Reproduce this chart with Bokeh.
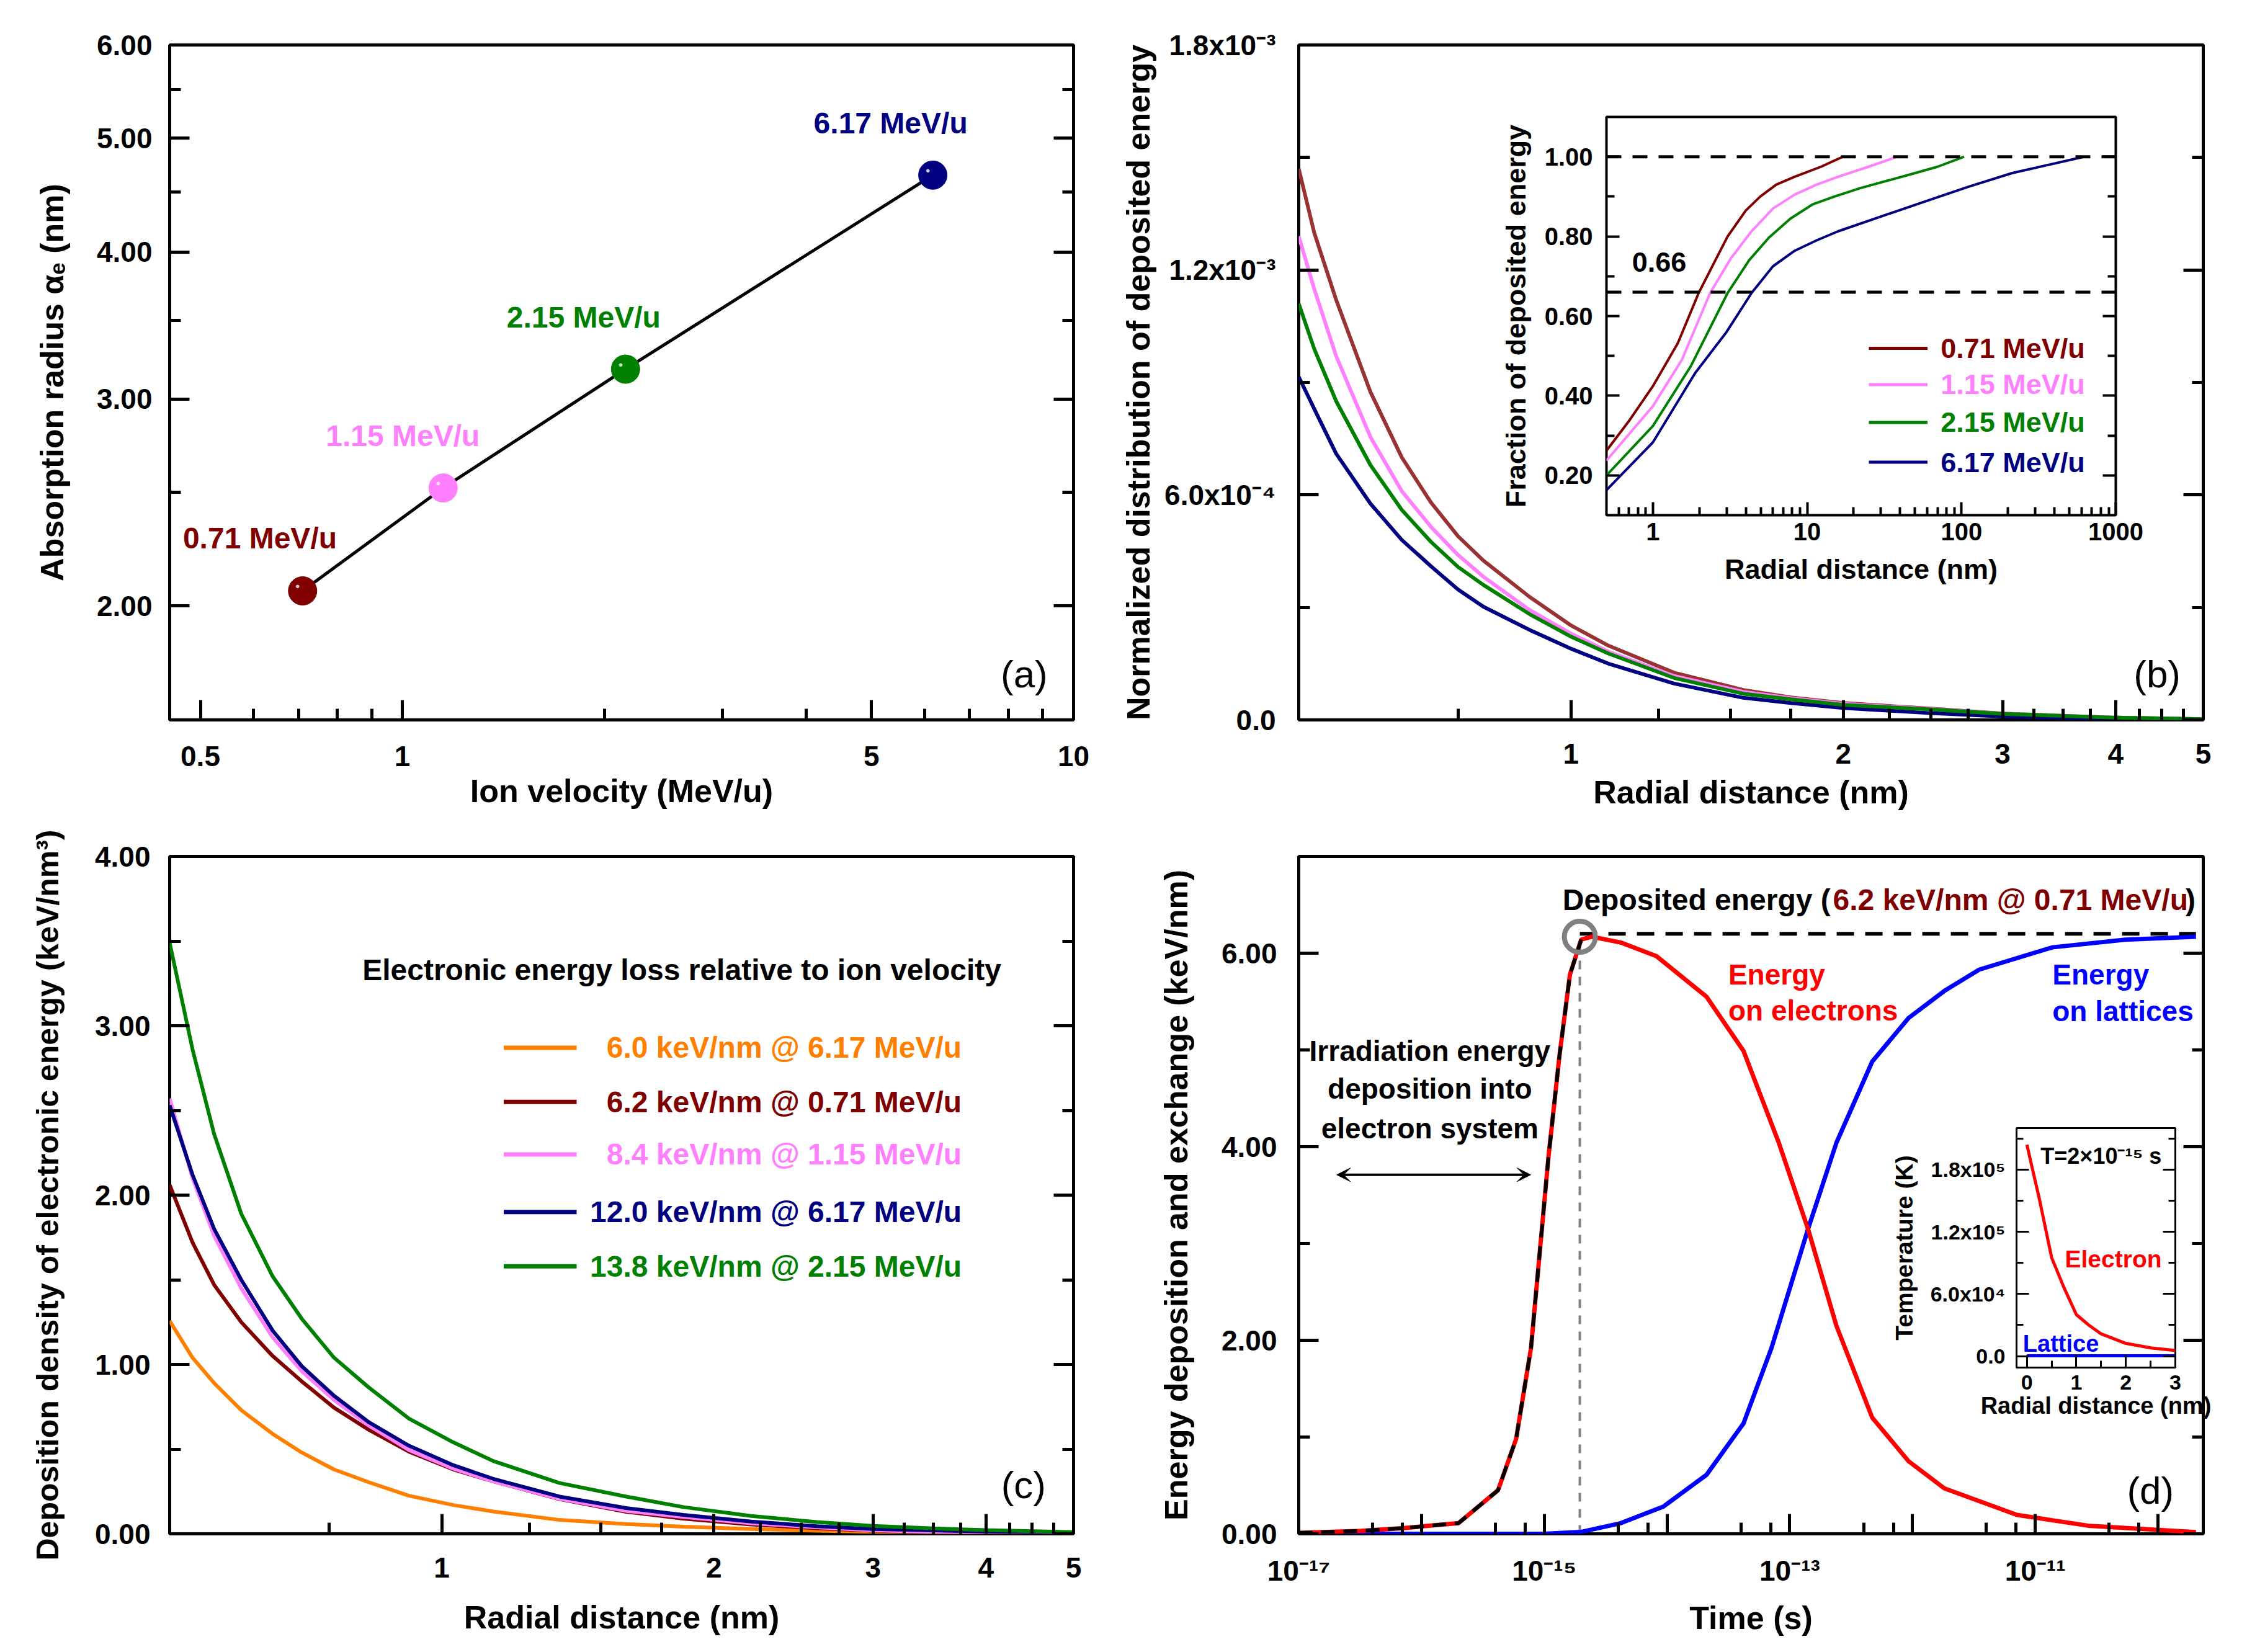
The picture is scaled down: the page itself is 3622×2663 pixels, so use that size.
from bokeh.plotting import figure
from bokeh.models import (FixedTicker, CustomJSTickFormatter, LinearAxis, LogAxis,
                          Range1d, GridBox, Arrow, VeeHead, Span)
from bokeh.core.properties import value
from bokeh.embed import file_html
from bokeh.resources import INLINE

FONT = "Liberation Sans"

# ---------------- colours ----------------
C_071 = "#800000"
C_071_B = "#993333"
C_115 = "#FF80FF"
C_215 = "#008000"
C_617 = "#000080"
C_ORANGE = "#FF8000"
C_RED = "#FF0000"
C_BLUE = "#0000FF"
C_GRAY = "#808080"

# ---------------- panel (a) data ----------------
ion_velocity = [0.71, 1.15, 2.15, 6.17]
absorption_radius = [2.06, 2.52, 3.18, 4.65]
velocity_labels = ["0.71 MeV/u", "1.15 MeV/u", "2.15 MeV/u", "6.17 MeV/u"]
velocity_colors = [C_071, C_115, C_215, C_617]
a_label_x = [0.471, 0.769, 1.43, 4.10]
a_label_y = [2.285, 2.79, 3.52, 5.15]
a_x_ticks = [0.5, 1, 5, 10]
a_x_tick_labels = ["0.5", "1", "5", "10"]
a_x_minor = [0.6, 0.7, 0.8, 0.9, 2, 3, 4, 6, 7, 8, 9]
a_y_ticks = [2, 3, 4, 5, 6]
a_y_tick_labels = ["2.00", "3.00", "4.00", "5.00", "6.00"]
a_y_minor = [2.5, 3.5, 4.5, 5.5]

# ---------------- panel (b) data ----------------
b_radius = [0.5, 0.52, 0.55, 0.6, 0.65, 0.7, 0.75, 0.8, 0.9, 1.0, 1.1, 1.3, 1.55, 1.75, 2.0, 2.5, 3.0, 4.0, 5.0]
b_071 = [14.7e-4, 13.0e-4, 11.2e-4, 8.75e-4, 7.0e-4, 5.8e-4, 4.9e-4, 4.25e-4, 3.28e-4, 2.52e-4, 1.98e-4,
         1.26e-4, 0.80e-4, 0.60e-4, 0.45e-4, 0.30e-4, 0.17e-4, 0.06e-4, 0.02e-4]
b_115 = [12.9e-4, 11.5e-4, 9.7e-4, 7.55e-4, 6.1e-4, 5.15e-4, 4.4e-4, 3.82e-4, 2.93e-4, 2.3e-4, 1.82e-4,
         1.17e-4, 0.75e-4, 0.58e-4, 0.43e-4, 0.29e-4, 0.16e-4, 0.06e-4, 0.02e-4]
b_215 = [11.1e-4, 9.9e-4, 8.5e-4, 6.8e-4, 5.6e-4, 4.75e-4, 4.08e-4, 3.6e-4, 2.82e-4, 2.22e-4, 1.77e-4,
         1.12e-4, 0.70e-4, 0.55e-4, 0.40e-4, 0.28e-4, 0.16e-4, 0.06e-4, 0.02e-4]
b_617 = [9.15e-4, 8.3e-4, 7.1e-4, 5.77e-4, 4.8e-4, 4.1e-4, 3.48e-4, 3.02e-4, 2.4e-4, 1.9e-4, 1.5e-4,
         0.97e-4, 0.59e-4, 0.45e-4, 0.32e-4, 0.18e-4, 0.09e-4, 0.03e-4, 0.01e-4]
b_x_ticks = [1, 2, 3, 4, 5]
b_x_tick_labels = ["1", "2", "3", "4", "5"]
bc_x_minor = [0.75, 1.25, 1.5, 1.75, 2.25, 2.5, 2.75, 3.25, 3.5, 3.75, 4.25, 4.5, 4.75]
b_y_ticks = [0.0, 6.0e-4, 1.2e-3, 1.8e-3]
b_y_tick_labels = ["0.0", "6.0x10\u207b\u2074", "1.2x10\u207b\u00b3", "1.8x10\u207b\u00b3"]
b_y_minor = [3.0e-4, 9.0e-4, 1.5e-3]

# inset of (b): fraction of deposited energy
f_r_071 = [0.5, 0.71, 1.0, 1.45, 1.98, 2.5, 3.05, 4.0, 4.96, 6.3, 8.3, 12.3, 17.0]
f_071 = [0.262, 0.34, 0.424, 0.532, 0.658, 0.735, 0.80, 0.865, 0.90, 0.93, 0.95, 0.975, 1.0]
f_r_115 = [0.5, 1.0, 1.54, 2.35, 3.2, 4.36, 6.0, 8.3, 11.5, 15.9, 25.0, 38.3]
f_115 = [0.237, 0.374, 0.49, 0.658, 0.745, 0.813, 0.87, 0.905, 0.93, 0.95, 0.975, 1.0]
f_r_215 = [0.5, 1.0, 1.76, 3.05, 4.2, 5.65, 7.8, 10.8, 15.0, 22.0, 44.9, 70.0, 104.0]
f_215 = [0.20, 0.324, 0.474, 0.658, 0.74, 0.797, 0.845, 0.88, 0.90, 0.921, 0.954, 0.975, 1.0]
f_r_617 = [0.5, 1.0, 1.88, 3.0, 4.36, 6.0, 8.3, 11.5, 15.9, 30.6, 58.3, 111.5, 213.0, 621.0]
f_617 = [0.163, 0.283, 0.457, 0.56, 0.658, 0.725, 0.764, 0.79, 0.813, 0.851, 0.888, 0.925, 0.959, 1.0]
fraction_levels = [1.0, 0.66]
inset_b_labels = ["0.71 MeV/u", "1.15 MeV/u", "2.15 MeV/u", "6.17 MeV/u"]
ib_x_ticks = [1, 10, 100, 1000]
ib_x_tick_labels = ["1", "10", "100", "1000"]
ib_x_minor = [0.6, 0.7, 0.8, 0.9] + [k * m for m in (1, 10, 100) for k in range(2, 10)]
ib_y_ticks = [0.2, 0.4, 0.6, 0.8, 1.0]
ib_y_tick_labels = ["0.20", "0.40", "0.60", "0.80", "1.00"]
ib_y_minor = [0.3, 0.5, 0.7, 0.9]
ib_leg_y = [0.519, 0.428, 0.333, 0.233]

# ---------------- panel (c) data ----------------
c_radius = [0.5, 0.53, 0.56, 0.6, 0.65, 0.7, 0.76, 0.83, 0.92, 1.03, 1.14, 1.35, 1.6, 1.85, 2.2, 2.6, 3.0, 3.5, 4.0, 5.0]
c_60 = [1.257, 1.04, 0.89, 0.73, 0.59, 0.48, 0.38, 0.305, 0.225, 0.17, 0.132, 0.082, 0.058, 0.042, 0.028,
        0.018, 0.012, 0.007, 0.004, 0.002]
c_62 = [2.06, 1.72, 1.47, 1.25, 1.05, 0.90, 0.745, 0.615, 0.485, 0.38, 0.31, 0.205, 0.13, 0.09, 0.055,
        0.033, 0.018, 0.010, 0.006, 0.003]
c_84 = [2.57, 2.10, 1.76, 1.45, 1.16, 0.96, 0.79, 0.64, 0.495, 0.385, 0.31, 0.207, 0.135, 0.10, 0.062,
        0.038, 0.020, 0.012, 0.007, 0.003]
c_120 = [2.53, 2.12, 1.80, 1.50, 1.20, 0.99, 0.815, 0.66, 0.52, 0.405, 0.325, 0.22, 0.152, 0.112, 0.072,
         0.045, 0.028, 0.020, 0.014, 0.006]
c_138 = [3.49, 2.86, 2.36, 1.89, 1.52, 1.27, 1.04, 0.865, 0.68, 0.54, 0.43, 0.30, 0.22, 0.158, 0.105,
         0.070, 0.047, 0.032, 0.022, 0.010]
c_legend_labels = ["6.0 keV/nm @ 6.17 MeV/u", "6.2 keV/nm @ 0.71 MeV/u", "8.4 keV/nm @ 1.15 MeV/u",
                   "12.0 keV/nm @ 6.17 MeV/u", "13.8 keV/nm @ 2.15 MeV/u"]
c_legend_colors = [C_ORANGE, C_071, C_115, C_617, C_215]
c_leg_y = [2.87, 2.55, 2.24, 1.90, 1.58]
c_y_ticks = [0, 1, 2, 3, 4]
c_y_tick_labels = ["0.00", "1.00", "2.00", "3.00", "4.00"]
c_y_minor = [0.5, 1.5, 2.5, 3.5]

# ---------------- panel (d) data ----------------
t_elec = [1e-17, 3.2e-17, 7.2e-17, 2.0e-16, 4.2e-16, 5.9e-16, 7.8e-16, 1.08e-15, 1.33e-15, 1.62e-15,
          2.0e-15, 2.45e-15, 4.2e-15, 8.2e-15, 2.1e-14, 4.2e-14, 8.1e-14, 1.41e-13, 2.4e-13, 4.7e-13,
          9.3e-13, 1.82e-12, 7.1e-12, 2.7e-11, 2.04e-10]
e_elec = [0.01, 0.03, 0.06, 0.11, 0.45, 0.98, 1.92, 3.88, 4.94, 5.78,
          6.14, 6.17, 6.11, 5.97, 5.55, 4.99, 4.05, 3.15, 2.15, 1.20,
          0.75, 0.47, 0.195, 0.084, 0.017]
n_deposit = 11   # points of the deposition stage (up to 2e-15 s)
t_latt = [1e-17, 1.0e-15, 2.0e-15, 4.2e-15, 9.3e-15, 2.1e-14, 4.2e-14, 7.1e-14, 1.41e-13, 2.4e-13,
          4.7e-13, 9.3e-13, 1.82e-12, 3.5e-12, 1.38e-11, 5.4e-11, 2.04e-10]
e_latt = [0.0, 0.0, 0.02, 0.11, 0.28, 0.61, 1.14, 1.92, 3.15, 4.04,
          4.88, 5.33, 5.61, 5.83, 6.06, 6.14, 6.17]
deposit_time = 1.95e-15
deposit_energy = 6.2
d_x_ticks = [1e-17, 1e-16, 1e-15, 1e-14, 1e-13, 1e-12, 1e-11, 1e-10]
d_x_tick_labels = ["10\u207b\u00b9\u2077", "", "10\u207b\u00b9\u2075", "", "10\u207b\u00b9\u00b3", "",
                   "10\u207b\u00b9\u00b9", ""]
d_x_minor = [k * 10.0 ** e for e in range(-17, -9) for k in (4, 7)]
d_y_ticks = [0, 2, 4, 6]
d_y_tick_labels = ["0.00", "2.00", "4.00", "6.00"]
d_y_minor = [1, 3, 5]
arrow_t = [2.04e-17, 7.76e-16]
arrow_e = 3.71

# inset of (d): temperature profile at t = 2e-15 s
temp_r = [0.0, 0.1, 0.25, 0.5, 0.75, 1.0, 1.25, 1.5, 2.0, 2.5, 3.0]
temp_electron = [2.04e5, 1.83e5, 1.52e5, 9.5e4, 6.6e4, 4.0e4, 3.0e4, 2.15e4, 1.23e4, 8.0e3, 5.4e3]
temp_lattice = [300, 300, 300, 300, 300, 300, 300, 300, 300, 300, 300]
id_x_ticks = [0, 1, 2, 3]
id_x_tick_labels = ["0", "1", "2", "3"]
id_x_minor = [0.5, 1.5, 2.5]
id_y_ticks = [0, 6e4, 1.2e5, 1.8e5]
id_y_tick_labels = ["0.0", "6.0x10\u2074", "1.2x10\u2075", "1.8x10\u2075"]
id_y_minor = [3e4, 9e4, 1.5e5, 2.1e5]

LABEL_JS = """
for (let i = 0; i < vals.length; i++) {
  const v = vals[i];
  if (Math.abs(v - tick) <= 1e-6 * Math.abs(v) + 1e-30) return labs[i];
}
return "";
"""

# layout (pixels): column/row borders are shared by every figure in a column/row
L0, R0 = 273, 63          # column 0 left / right borders
L1, R1 = 300, 63          # column 1 left / right borders
T0, B0 = 72, 165          # row 0 top / bottom borders
T1, B1 = 55, 185          # row 1 top / bottom borders


def make_fig(xr, yr, xlog, ylog, fw, fh, l, r, t, b, outline=5, transparent=False):
    p = figure(x_range=Range1d(*xr), y_range=Range1d(*yr),
               x_axis_type="log" if xlog else "linear",
               y_axis_type="log" if ylog else "linear",
               frame_width=fw, frame_height=fh,
               min_border_left=l, min_border_right=r, min_border_top=t, min_border_bottom=b,
               toolbar_location=None, output_backend="svg")
    p.xgrid.visible = False
    p.ygrid.visible = False
    p.outline_line_color = "black"
    p.outline_line_width = outline
    p.outline_line_alpha = 1.0
    if transparent:
        p.background_fill_alpha = 0
        p.border_fill_alpha = 0
    else:
        p.background_fill_color = "white"
        p.border_fill_color = "white"
    return p


def style(ax, ticks, labels, minor, tick_px, title_px, maj, mnr, lw, lab_so, title_so, show=True):
    ax.ticker = FixedTicker(ticks=ticks, minor_ticks=minor)
    ax.axis_line_color = None
    ax.major_tick_in = maj
    ax.major_tick_out = 0
    ax.minor_tick_in = mnr
    ax.minor_tick_out = 0
    ax.major_tick_line_width = lw
    ax.minor_tick_line_width = lw
    ax.major_tick_line_color = "black"
    ax.minor_tick_line_color = "black"
    ax.major_label_text_font = FONT
    ax.major_label_text_font_style = "bold"
    ax.major_label_text_color = "black"
    ax.axis_label_text_font = FONT
    ax.axis_label_text_font_style = "bold"
    ax.axis_label_text_color = "black"
    ax.axis_label_text_font_size = f"{title_px}px"
    ax.major_label_standoff = lab_so
    ax.axis_label_standoff = title_so
    if show:
        ax.major_label_text_font_size = f"{tick_px}px"
        ax.formatter = CustomJSTickFormatter(args=dict(vals=ticks, labs=labels), code=LABEL_JS)
    else:
        ax.major_label_text_font_size = "0px"
        ax.formatter = CustomJSTickFormatter(code="return '';")


def mirror(p, ylog, ticks, minor, maj, mnr, lw):
    ax = LogAxis() if ylog else LinearAxis()
    style(ax, ticks, None, minor, 10, 10, maj, mnr, lw, 0, 0, show=False)
    p.add_layout(ax, "right")


def txt(p, x, y, s, color="black", size=48, align="left", baseline="middle", fstyle="bold"):
    p.text(x=x if isinstance(x, list) else [x], y=y if isinstance(y, list) else [y],
           text=s if isinstance(s, list) else [s], text_color=color,
           text_font=value(FONT), text_font_size=f"{size}px", text_font_style=fstyle,
           text_align=align, text_baseline=baseline)


# ================= panel (a) =================
pa = make_fig((0.45, 10.0), (1.6, 6.0), True, True, 1457, 1088, L0, R0, T0, B0)
style(pa.xaxis[0], a_x_ticks, a_x_tick_labels, a_x_minor, 46, 52, 32, 18, 5, 42, 8)
style(pa.yaxis[0], a_y_ticks, a_y_tick_labels, a_y_minor, 46, 52, 32, 18, 5, 28, 40)
pa.xaxis[0].axis_label = "Ion velocity (MeV/u)"
pa.yaxis[0].axis_label = "Absorption radius \u03b1\u2091 (nm)"
mirror(pa, True, a_y_ticks, a_y_minor, 32, 18, 5)
pa.line(ion_velocity, absorption_radius, line_width=5, line_color="black")
pa.scatter(ion_velocity, absorption_radius, size=46, fill_color=velocity_colors, line_color=velocity_colors)
pa.text(ion_velocity, absorption_radius, text=["\u25cf"] * 4, text_color="white", text_alpha=0.8,
        text_font_size="13px", x_offset=-8, y_offset=-8, text_align="center", text_baseline="middle")
txt(pa, a_label_x, a_label_y, velocity_labels, color=velocity_colors, size=48)
txt(pa, 9.15, 1.751, "(a)", size=62, align="right", fstyle="normal")

# ================= panel (b) =================
pb = make_fig((0.5, 5.0), (0.0, 1.8e-3), True, False, 1458, 1088, L1, R1, T0, B0)
style(pb.xaxis[0], b_x_ticks, b_x_tick_labels, bc_x_minor, 46, 52, 32, 18, 5, 38, 14)
style(pb.yaxis[0], b_y_ticks, b_y_tick_labels, b_y_minor, 46, 52, 32, 18, 5, 37, 10)
pb.xaxis[0].axis_label = "Radial distance (nm)"
pb.yaxis[0].axis_label = "Normalized distribution of deposited energy"
mirror(pb, False, b_y_ticks, b_y_minor, 32, 18, 5)
pb.line(b_radius, b_071, line_width=6, line_color=C_071_B)
pb.line(b_radius, b_115, line_width=6, line_color=C_115)
pb.line(b_radius, b_617, line_width=6, line_color=C_617)
pb.line(b_radius, b_215, line_width=6, line_color=C_215)
txt(pb, 4.72, 1.23e-4, "(b)", size=62, align="right", fstyle="normal")

# inset of (b)  (borders equal to the column/row borders; the grid aligns them)
pbi = make_fig((0.5, 1000.0), (0.1, 1.1), True, False, 821, 642, L1, R1, T0, B0, outline=4, transparent=True)
style(pbi.xaxis[0], ib_x_ticks, ib_x_tick_labels, ib_x_minor, 40, 45, 21, 13, 4, 12, 18)
style(pbi.yaxis[0], ib_y_ticks, ib_y_tick_labels, ib_y_minor, 40, 45, 21, 13, 4, 22, 18)
pbi.xaxis[0].axis_label = "Radial distance (nm)"
pbi.yaxis[0].axis_label = "Fraction of deposited energy"
mirror(pbi, False, ib_y_ticks, ib_y_minor, 21, 13, 4)
for lvl in fraction_levels:
    pbi.add_layout(Span(location=lvl, dimension="width", line_color="black", line_width=5,
                        line_dash="24 18"))
pbi.line(f_r_071, f_071, line_width=4, line_color=C_071)
pbi.line(f_r_115, f_115, line_width=4, line_color=C_115)
pbi.line(f_r_215, f_215, line_width=4, line_color=C_215)
pbi.line(f_r_617, f_617, line_width=4, line_color=C_617)
txt(pbi, 0.732, 0.735, "0.66", size=45)
pbi.segment(x0=[25.1] * 4, y0=ib_leg_y, x1=[60.2] * 4, y1=ib_leg_y, line_width=5,
            line_color=velocity_colors)
txt(pbi, [73.3] * 4, ib_leg_y, inset_b_labels, color=velocity_colors, size=45)

# ================= panel (c) =================
pc = make_fig((0.5, 5.0), (0.0, 4.0), True, False, 1457, 1092, L0, R0, T1, B1)
style(pc.xaxis[0], b_x_ticks, b_x_tick_labels, bc_x_minor, 46, 52, 32, 18, 5, 38, 32)
style(pc.yaxis[0], c_y_ticks, c_y_tick_labels, c_y_minor, 46, 50, 32, 18, 5, 31, 45)
pc.xaxis[0].axis_label = "Radial distance (nm)"
pc.yaxis[0].axis_label = "Deposition density of electronic energy (keV/nm\u00b3)"
mirror(pc, False, c_y_ticks, c_y_minor, 32, 18, 5)
pc.line(c_radius, c_60, line_width=6, line_color=C_ORANGE)
pc.line(c_radius, c_62, line_width=6, line_color=C_071)
pc.line(c_radius, c_84, line_width=6, line_color=C_115)
pc.line(c_radius, c_120, line_width=6, line_color=C_617)
pc.line(c_radius, c_138, line_width=6, line_color=C_215)
txt(pc, 0.817, 3.33, "Electronic energy loss relative to ion velocity", size=48)
pc.segment(x0=[1.171] * 5, y0=c_leg_y, x1=[1.41] * 5, y1=c_leg_y, line_width=7,
           line_color=c_legend_colors)
txt(pc, [3.76] * 5, c_leg_y, c_legend_labels, color=c_legend_colors, size=48, align="right")
txt(pc, 4.66, 0.29, "(c)", size=62, align="right", fstyle="normal")

# ================= panel (d) =================
pd = make_fig((1e-17, 2.34e-10), (0.0, 7.0), True, False, 1458, 1092, L1, R1, T1, B1)
style(pd.xaxis[0], d_x_ticks, d_x_tick_labels, d_x_minor, 46, 52, 32, 18, 5, 33, 18)
style(pd.yaxis[0], d_y_ticks, d_y_tick_labels, d_y_minor, 46, 52, 32, 18, 5, 35, 41)
pd.xaxis[0].axis_label = "Time (s)"
pd.yaxis[0].axis_label = "Energy deposition and exchange (keV/nm)"
mirror(pd, False, d_y_ticks, d_y_minor, 32, 18, 5)
pd.segment(x0=[deposit_time], y0=[0.0], x1=[deposit_time], y1=[deposit_energy - 0.1],
           line_color=C_GRAY, line_width=4, line_dash="14 12")
pd.segment(x0=[deposit_time], y0=[deposit_energy], x1=[t_elec[-1]], y1=[deposit_energy],
           line_color="black", line_width=6, line_dash="28 18")
pd.line(t_latt, e_latt, line_width=7, line_color=C_BLUE)
pd.line(t_elec, e_elec, line_width=7, line_color=C_RED)
pd.line(t_elec[:n_deposit], e_elec[:n_deposit], line_width=6, line_color="black", line_dash="22 14")
pd.scatter([deposit_time], [6.17], size=50, fill_color=None, line_color=C_GRAY, line_width=8)
pd.add_layout(Arrow(start=VeeHead(size=22, fill_color="black", line_color="black"),
                    end=VeeHead(size=22, fill_color="black", line_color="black"),
                    x_start=arrow_t[0], y_start=arrow_e, x_end=arrow_t[1], y_end=arrow_e,
                    line_width=4, line_color="black"))
txt(pd, 1.41e-15, 6.55, "Deposited energy (", size=48)
txt(pd, 2.25e-13, 6.55, "6.2 keV/nm @ 0.71 MeV/u", color=C_071, size=48)
txt(pd, 1.68e-10, 6.55, ")", size=48)
txt(pd, [1.17e-16] * 3, [4.99, 4.60, 4.19], ["Irradiation energy", "deposition into", "electron system"],
    size=46, align="center")
txt(pd, [3.16e-14] * 2, [5.78, 5.41], ["Energy", "on electrons"], color=C_RED, size=46)
txt(pd, [1.38e-11] * 2, [5.78, 5.40], ["Energy", "on lattices"], color=C_BLUE, size=46)
txt(pd, 1.35e-10, 0.45, "(d)", size=62, align="right", fstyle="normal")

# inset of (d)
pdi = make_fig((-0.21, 3.0), (-1.1e4, 2.2e5), False, False, 256, 386, L1, R1, T1, B1, outline=3,
               transparent=True)
style(pdi.xaxis[0], id_x_ticks, id_x_tick_labels, id_x_minor, 34, 38, 20, 11, 3, 12, 2)
style(pdi.yaxis[0], id_y_ticks, id_y_tick_labels, id_y_minor, 34, 39, 20, 11, 3, 18, 18)
pdi.xaxis[0].axis_label = "Radial distance (nm)"
pdi.yaxis[0].axis_label = "Temperature (K)"
mirror(pdi, False, id_y_ticks, id_y_minor, 20, 11, 3)
pdi.line(temp_r, temp_lattice, line_width=5, line_color=C_BLUE)
pdi.line(temp_r, temp_electron, line_width=5, line_color=C_RED)
txt(pdi, 0.277, 1.93e5, "T=2\u00d710\u207b\u00b9\u2075 s", size=36)
txt(pdi, 0.768, 9.36e4, "Electron", color=C_RED, size=39)
txt(pdi, -0.08, 1.23e4, "Lattice", color=C_BLUE, size=38)

# column 1 starts at x = L0 + 1457 + R0 = 1793 ; row 1 starts at y = T0 + 1088 + B0 = 1325
pbi.margin = (116, 0, 0, 496)     # inset frame at x 2589, y 188
pdi.margin = (438, 0, 0, 1157)    # inset frame at x 3250, y 1818

grid = GridBox(children=[(pa, 0, 0), (pb, 0, 1), (pbi, 0, 1),
                         (pc, 1, 0), (pd, 1, 1), (pdi, 1, 1)])

open("out.html", "w").write(file_html(grid, INLINE))
